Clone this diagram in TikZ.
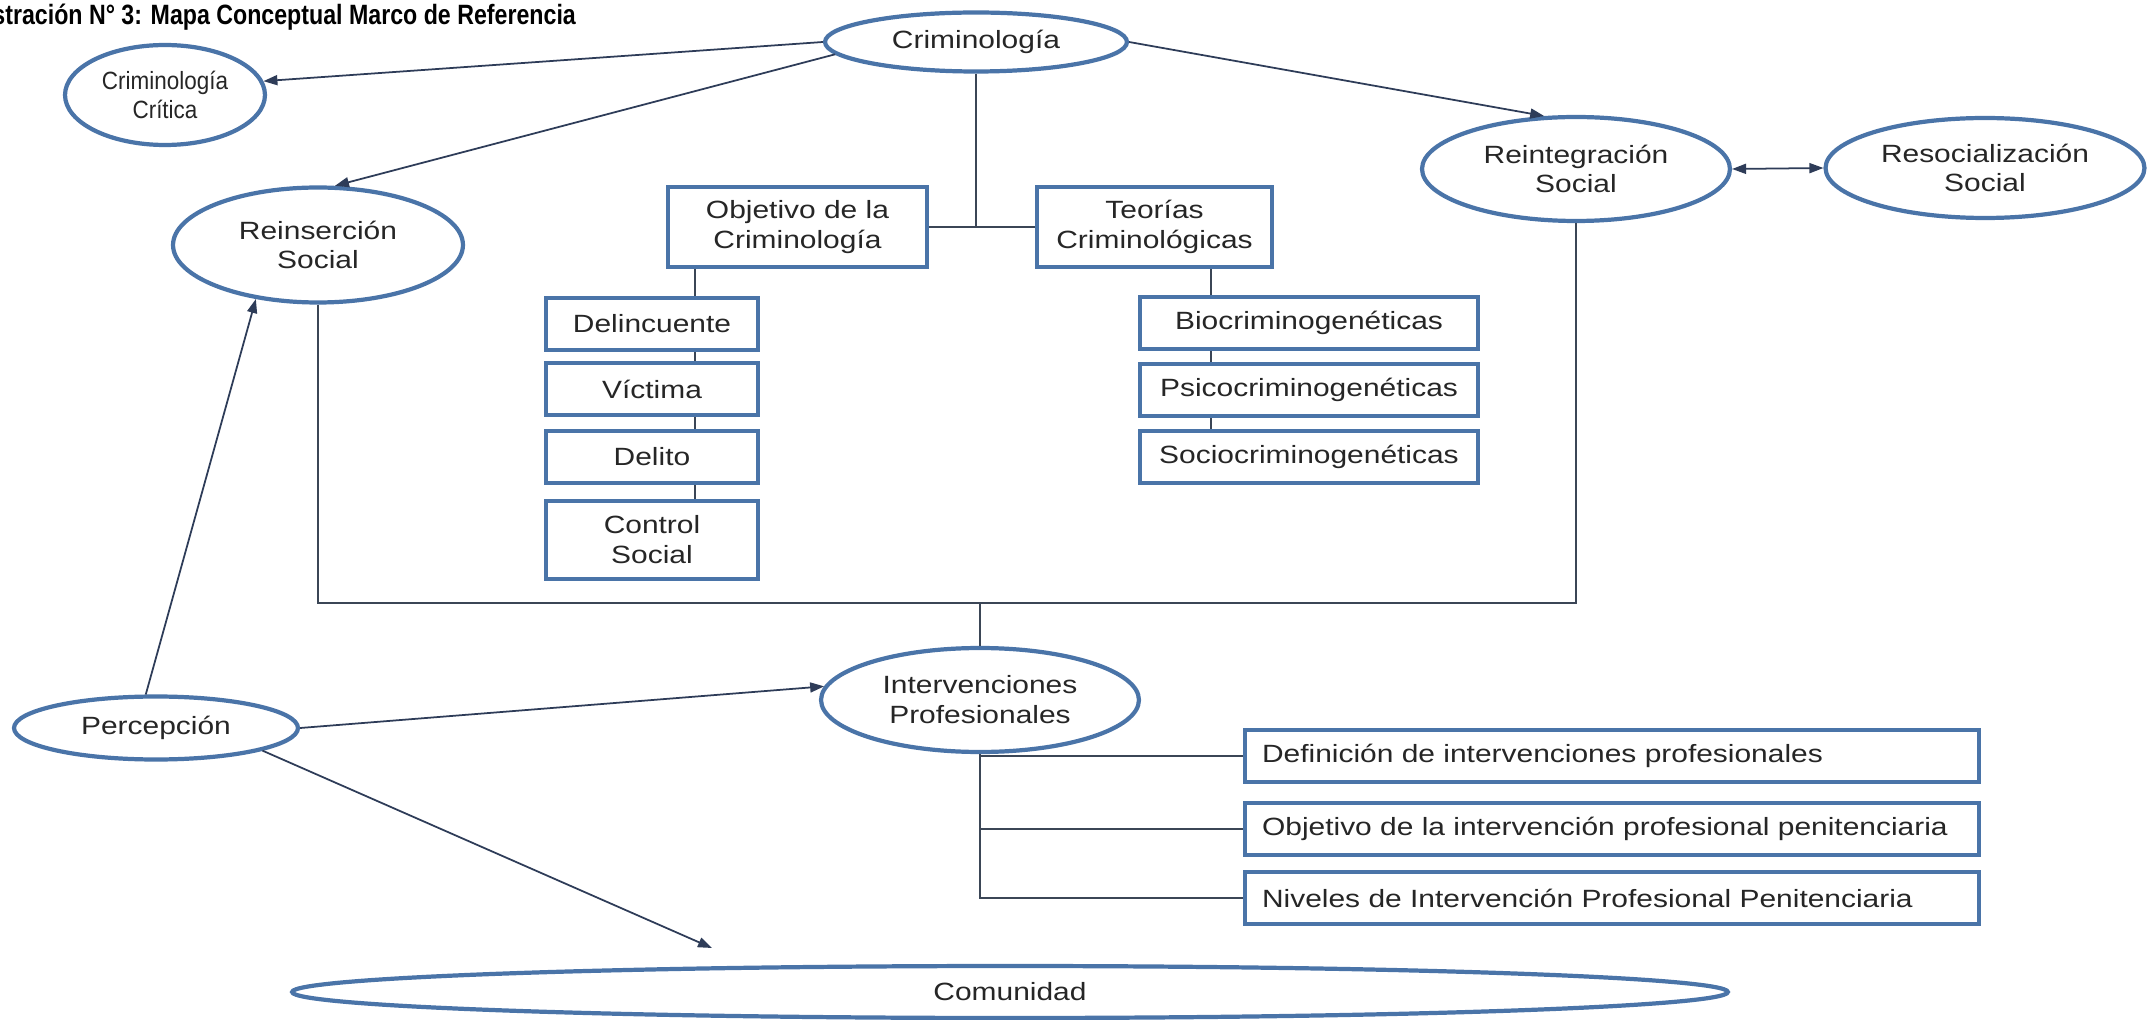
\documentclass[tikz,border=0pt]{standalone}
\usepackage{fontspec}
\setmainfont{Liberation Sans}[FakeStretch=1.2]
\newfontfamily\titlefont{Liberation Sans}[FakeStretch=0.83]
\newfontfamily\narrowfont{Liberation Sans}[FakeStretch=0.9]
\usetikzlibrary{shapes,arrows.meta}
\definecolor{ovalblue}{HTML}{4A74A8}
\definecolor{linegray}{HTML}{3B4656}
\definecolor{arrowblue}{HTML}{2E3C58}
\definecolor{textgray}{HTML}{262626}

\begin{document}
\begin{tikzpicture}[x=0.02cm, y=-0.02cm,               % pixel grid, y down
                    font=\fontsize{14.2}{17}\selectfont,
                    oval/.style={ellipse, draw=ovalblue, line width=2.4pt, fill=white,
                                 inner sep=0pt, align=center, text=textgray},
                    box/.style={rectangle, draw=ovalblue, line width=2.4pt, fill=white,
                                inner sep=0pt, align=center, text=textgray},
                    link/.style={draw=linegray, line width=1pt},
                    arr/.style={draw=arrowblue, line width=1pt,
                                -{Triangle[length=0.28cm,width=0.2cm]}}   % arrow tip
                    ]

\fill[white] (0,0) rectangle (2148,1020);
\useasboundingbox (0,0) rectangle (2148,1020);

\node[anchor=base west, inner sep=0pt, font=\titlefont\fontsize{15.9}{19}\selectfont\bfseries] (title) at (-35,25)
     {Ilustración N° 3: Mapa Conceptual Marco de Referencia};

% Ovals
\node[oval, minimum width=6.04cm, minimum height=1.18cm] (crim) at (976,42) {Criminología};
\node[oval, minimum width=4cm, minimum height=2cm, font=\narrowfont\fontsize{14.2}{17}\selectfont] (critica) at (165,95)
     {Criminología\\Crítica};
\node[oval, minimum width=5.8cm, minimum height=2.3cm] (reinser) at (318,245) {Reinserción\\Social};
\node[oval, minimum width=6.16cm, minimum height=2.08cm] (reinteg) at (1576,169) {Reintegración\\Social};
\node[oval, minimum width=6.38cm, minimum height=2cm] (resoc) at (1985,168) {Resocialización\\Social};
\node[oval, minimum width=6.36cm, minimum height=2.08cm] (interv) at (980,700) {Intervenciones\\Profesionales};
\node[oval, minimum width=5.68cm, minimum height=1.26cm] (percep) at (156,728) {Percepción};
\node[oval, minimum width=28.72cm, minimum height=1.04cm] (comun) at (1010,992) {Comunidad};

% Objetivo / Teorias
\node[box, minimum width=5.18cm, minimum height=1.6cm] (obj) at (797.5,227) {Objetivo de la\\Criminología};
\node[box, minimum width=4.7cm, minimum height=1.6cm] (teo) at (1154.5,227) {Teorías\\Criminológicas};

% left column
\node[box, minimum width=4.24cm, minimum height=1.04cm] (delinc) at (652,324) {Delincuente};
\node[box, minimum width=4.24cm, minimum height=1.04cm] (victima) at (652,389) {Víctima};
\node[box, minimum width=4.24cm, minimum height=1.04cm] (delito) at (652,457) {Delito};
\node[box, minimum width=4.24cm, minimum height=1.56cm] (control) at (652,540) {Control\\Social};

% right column
\node[box, minimum width=6.76cm, minimum height=1.04cm] (bio) at (1309,323) {Biocriminogenéticas};
\node[box, minimum width=6.76cm, minimum height=1.04cm] (psico) at (1309,390) {Psicocriminogenéticas};
\node[box, minimum width=6.76cm, minimum height=1.04cm] (socio) at (1309,457) {Sociocriminogenéticas};

% intervenciones
\node[box, minimum width=14.68cm, minimum height=1.04cm, text width=14cm, align=left] (def) at (1612,756)
     {Definición de intervenciones profesionales};
\node[box, minimum width=14.68cm, minimum height=1.04cm, text width=14cm, align=left] (obji) at (1612,829)
     {Objetivo de la intervención profesional penitenciaria};
\node[box, minimum width=14.68cm, minimum height=1.04cm, text width=14cm, align=left] (niv) at (1612,898)
     {Niveles de Intervención Profesional Penitenciaria};

\coordinate (lcol) at (695,0);
\coordinate (rcol) at (1211,0);
\coordinate (brk) at (980,603);
\coordinate (comtip) at (712,948);

% tree lines
\draw[link] (crim.south) -- (crim.south |- obj.east);
\draw[link] (obj.east) -- (teo.west);
\draw[link] (obj.south -| lcol) -- (delinc.north -| lcol);
\draw[link] (delinc.south -| lcol) -- (victima.north -| lcol);
\draw[link] (victima.south -| lcol) -- (delito.north -| lcol);
\draw[link] (delito.south -| lcol) -- (control.north -| lcol);
\draw[link] (teo.south -| rcol) -- (bio.north -| rcol);
\draw[link] (bio.south -| rcol) -- (psico.north -| rcol);
\draw[link] (psico.south -| rcol) -- (socio.north -| rcol);

\draw[link] (reinser.south) |- (brk) -| (reinteg.south);
\draw[link] (brk) -- (interv.north);

\draw[link] (interv.south) |- (niv.west);
\draw[link] (interv.south |- def.west) -- (def.west);
\draw[link] (interv.south |- obji.west) -- (obji.west);

% arrows
\draw[arr] (crim.west) -- (critica.8);
\draw[arr] (crim.185) -- (reinser.74);
\draw[arr] (crim.east) -- (reinteg.121);
\draw[arr, {Triangle[length=0.28cm,width=0.2cm]}-{Triangle[length=0.28cm,width=0.2cm]}] (reinteg.east) -- (resoc.west);
\draw[arr] (percep.107) -- (reinser.221);
\draw[arr] (percep.east) -- (interv.175);
\draw[arr] (percep.348) -- (comtip);

\end{tikzpicture}
\end{document}
